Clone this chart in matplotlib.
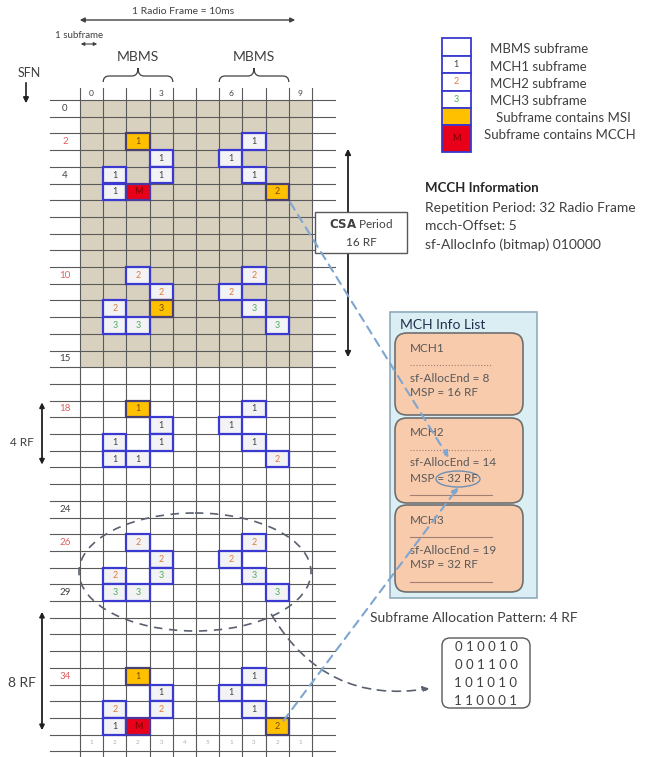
import numpy as np
import matplotlib.pyplot as plt
from matplotlib.patches import Rectangle, FancyBboxPatch, Ellipse, FancyArrowPatch, PathPatch
from matplotlib.path import Path

plt.rcParams['font.family'] = ['Lato', 'DejaVu Sans']

# ---- data -------------------------------------------------------------
n_sfn = 38                      # radio frames drawn (0..37)
n_subframes = 10
csa_period = 16                 # shaded rows
mbms_subframes = [1, 2, 3, 6, 7, 8]
header_cols = [0, 3, 6, 9]

row_labels = [0, 2, 4, 10, 15, 18, 24, 26, 29, 34]
red_rows = [2, 10, 18, 26, 34]
bottom_digits = ['1', '2', '2', '3', '4', '5', '1', '3', '2', '1']

# allocated subframes: SFN, subframe, label, kind
cell_sfn = [2, 2, 3, 3, 4, 4, 4, 5, 5, 5,
            10, 10, 11, 11, 12, 12, 12, 13, 13, 13,
            18, 18, 19, 19, 20, 20, 20, 21, 21, 21,
            26, 26, 27, 27, 28, 28, 28, 29, 29, 29,
            34, 34, 35, 35, 36, 36, 36, 37, 37, 37]
cell_sf = [2, 7, 3, 6, 1, 3, 7, 1, 2, 8] * 5
cell_label = ['1', '1', '1', '1', '1', '1', '1', '1', 'M', '2',
              '2', '2', '2', '2', '2', '3', '3', '3', '3', '3',
              '1', '1', '1', '1', '1', '1', '1', '1', '1', '2',
              '2', '2', '2', '2', '2', '3', '3', '3', '3', '3',
              '1', '1', '1', '1', '2', '2', '1', '1', 'M', '2']
cell_kind = ['msi', '', '', '', '', '', '', '', 'mcch', 'msi',
             '', '', '', '', '', 'msi', '', '', '', '',
             'msi', '', '', '', '', '', '', '', '', '',
             '', '', '', '', '', '', '', '', '', '',
             'msi', '', '', '', '', '', '', '', 'mcch', 'msi']

legend_labels = ['MBMS subframe', 'MCH1 subframe', 'MCH2 subframe', 'MCH3 subframe',
                 'Subframe contains MSI', 'Subframe contains MCCH']
legend_marks = ['', '1', '2', '3', '', 'M']
legend_kinds = ['', '', '', '', 'msi', 'mcch']

mcch_info = ['Repetition Period: 32 Radio Frame', 'mcch-Offset: 5',
             'sf-AllocInfo (bitmap) 010000']
mch_names = ['MCH1', 'MCH2', 'MCH3']
mch_alloc_end = [8, 14, 19]
mch_msp = [16, 32, 32]
alloc_pattern = ['010010', '001100', '101010', '110001']

# ---- layout (pixels) --------------------------------------------------
X0, CW = 80, 23.2
Y0, RH = 100, 16.7
LX0, LX1 = 50, 335

def cx(c):
    return X0 + c * CW

def ry(r):
    return Y0 + r * RH

txt_col = {'1': '#404040', '2': '#e07b39', '3': '#4fae5a', 'M': '#7a0000', '': '#404040'}
blue = '#3a3ad0'
grey = '#404040'

fig = plt.figure(figsize=(6.55, 7.57), dpi=100)
ax = fig.add_axes([0, 0, 1, 1])
ax.set_xlim(0, 655)
ax.set_ylim(757, 0)
ax.axis('off')

# shaded CSA period
ax.add_patch(Rectangle((cx(0), ry(0)), CW * n_subframes, RH * csa_period,
                       facecolor='#d8d1bf', edgecolor='none', zorder=0))

# grid
for r in range(n_sfn + 2):
    ax.plot([LX0, LX1], [ry(r), ry(r)], color='#5a5a5a', lw=0.8, zorder=1)
for c in range(n_subframes + 1):
    ax.plot([cx(c), cx(c)], [88, 757], color='#5a5a5a', lw=0.8, zorder=1)

for c in header_cols:
    ax.text(cx(c) + CW / 2, 94, str(c), ha='center', va='center', fontsize=6, color=grey)
for r in row_labels:
    ax.text(65, ry(r) + RH / 2, str(r), ha='center', va='center', fontsize=7,
            color='#e06060' if r in red_rows else grey)
for c, d in enumerate(bottom_digits):
    ax.text(cx(c) + CW / 2, ry(n_sfn) + RH / 2, d, ha='center', va='center', fontsize=4.5, color='#b0b0b0')

# allocated subframes
for r, c, lab, kind in zip(cell_sfn, cell_sf, cell_label, cell_kind):
    if kind == 'msi':
        fc, ec = '#ffc000', '#4a4070'
    elif kind == 'mcch':
        fc, ec = '#e8001a', '#4a3aa0'
    else:
        fc, ec = '#f3f3f6', blue
    ax.add_patch(Rectangle((cx(c), ry(r)), CW, RH, facecolor=fc, edgecolor=ec, lw=1.6, zorder=3))
    ax.text(cx(c) + CW / 2, ry(r) + RH / 2, lab, ha='center', va='center', fontsize=6.5,
            color='#7a4a00' if kind == 'msi' else txt_col[lab], zorder=4)

# top annotations
ax.annotate('', xy=(298, 20), xytext=(77, 20),
            arrowprops=dict(arrowstyle='<|-|>', color=grey, lw=1, mutation_scale=7))
ax.text(183, 12, '1 Radio Frame = 10ms', ha='center', va='center', fontsize=7.5, color=grey)
ax.text(55, 36, '1 subframe', ha='left', va='center', fontsize=7, color=grey)
ax.annotate('', xy=(100, 44), xytext=(78, 44),
            arrowprops=dict(arrowstyle='<|-|>', color=grey, lw=0.8, mutation_scale=5))
ax.text(29, 73, 'SFN', ha='center', va='center', fontsize=9, color=grey)
ax.annotate('', xy=(26, 106), xytext=(26, 80),
            arrowprops=dict(arrowstyle='-|>', color='#202020', lw=1.2, mutation_scale=8))


def brace(x0, x1, yb=82, ym=76, yt=68, r=6):
    xc = (x0 + x1) / 2
    verts = [(x0, yb), (x0, ym), (x0 + r, ym), (xc - r, ym), (xc, ym), (xc, yt),
             (xc, yt), (xc, ym), (xc + r, ym), (x1 - r, ym), (x1, ym), (x1, yb)]
    codes = [Path.MOVETO, Path.CURVE3, Path.CURVE3, Path.LINETO, Path.CURVE3, Path.CURVE3,
             Path.MOVETO, Path.CURVE3, Path.CURVE3, Path.LINETO, Path.CURVE3, Path.CURVE3]
    ax.add_patch(PathPatch(Path(verts, codes), facecolor='none', edgecolor=grey, lw=0.9))


brace(cx(1), cx(4))
brace(cx(6), cx(9))
ax.text(cx(2.5), 57, 'MBMS', ha='center', va='center', fontsize=10, color=grey)
ax.text(cx(7.5), 57, 'MBMS', ha='center', va='center', fontsize=10, color=grey)

# left period arrows
ax.annotate('', xy=(42, ry(18) - 1), xytext=(42, ry(22)),
            arrowprops=dict(arrowstyle='<|-|>', color='#202020', lw=1.3, mutation_scale=7))
ax.text(22, 442, '4 RF', ha='center', va='center', fontsize=8.5, color=grey)
ax.annotate('', xy=(42, 609), xytext=(42, 733),
            arrowprops=dict(arrowstyle='<|-|>', color='#202020', lw=1.3, mutation_scale=7))
ax.text(22, 683, '8 RF', ha='center', va='center', fontsize=10, color=grey)

# CSA period arrow and box
ax.annotate('', xy=(348, 146), xytext=(348, 360),
            arrowprops=dict(arrowstyle='<|-|>', color='#202020', lw=1.3, mutation_scale=8))
ax.add_patch(Rectangle((315, 212), 92, 41, facecolor='white', edgecolor='#595959', lw=1, zorder=5))
ax.text(361, 224, r'$\bf{CSA}$ Period', ha='center', va='center', fontsize=8.5, color=grey, zorder=6)
ax.text(361, 242, '16 RF', ha='center', va='center', fontsize=8.5, color=grey, zorder=6)

# legend
leg_top = [38, 56, 73, 91, 108, 125]
leg_h = [18, 17, 18, 17, 17, 27]
for top, h, mark, kind, lab in zip(leg_top, leg_h, legend_marks, legend_kinds, legend_labels):
    fc = {'msi': '#ffc000', 'mcch': '#e8001a'}.get(kind, 'white')
    ax.add_patch(Rectangle((442, top), 29, h, facecolor=fc, edgecolor=blue, lw=1.3))
    ax.text(456, top + h / 2, mark, ha='center', va='center', fontsize=6.5, color=txt_col[mark])
leg_text_x = [490, 490, 490, 490, 496, 484]
leg_text_y = [49, 67, 84, 101, 118, 135]
for x, y, lab in zip(leg_text_x, leg_text_y, legend_labels):
    ax.text(x, y, lab, ha='left', va='center', fontsize=9.5, color=grey)

# MCCH information
ax.text(425, 188, 'MCCH Information', ha='left', va='center', fontsize=9.5, fontweight='bold', color='#262626')
for i, line in enumerate(mcch_info):
    ax.text(425, 208 + i * 18.5, line, ha='left', va='center', fontsize=10, color=grey)

# MCH info list
ax.add_patch(Rectangle((390, 312), 147, 286, facecolor='#dbeef4', edgecolor='#8faabc', lw=1.2))
ax.text(400, 325, 'MCH Info List', ha='left', va='center', fontsize=10, color='#1f3050')
mch_top = [333, 418, 505]
mch_h = [82, 85, 87]
for i, (top, h) in enumerate(zip(mch_top, mch_h)):
    ax.add_patch(FancyBboxPatch((395, top), 128, h, boxstyle='round,pad=0,rounding_size=12',
                                facecolor='#f8cbad', edgecolor='#6f6f6f', lw=1.2))
    ax.text(410, top + 15, mch_names[i], ha='left', va='center', fontsize=8.5, color='#595959')
    ax.plot([410, 492], [top + 32, top + 32], color='#a08070', lw=0.8,
            ls=':' if i < 2 else '-')
    ax.text(410, top + 45, f'sf-AllocEnd = {mch_alloc_end[i]}', ha='left', va='center',
            fontsize=8.5, color='#595959')
    ax.text(410, top + 60, f'MSP = {mch_msp[i]} RF', ha='left', va='center',
            fontsize=8.5, color='#595959')
    if i > 0:
        ax.plot([410, 492], [top + 77, top + 77], color='#a08070', lw=0.8)

ax.add_patch(Ellipse((458, 479), 44, 16, facecolor='none', edgecolor='#6f8fb0', lw=1))

# light blue dashed links from MSI subframes to MCH2 entries
ax.annotate('', xy=(450, 460), xytext=(cx(9), ry(6)),
            arrowprops=dict(arrowstyle='-|>', color='#7ea6d0', lw=1.5, ls=(0, (4, 3)),
                            mutation_scale=9), zorder=7)
ax.annotate('', xy=(460, 485), xytext=(cx(8.7), ry(37.3)),
            arrowprops=dict(arrowstyle='-|>', color='#7ea6d0', lw=1.5, ls=(0, (4, 3)),
                            mutation_scale=9), zorder=7)

# allocation pattern
ax.text(370, 618, 'Subframe Allocation Pattern: 4 RF', ha='left', va='center', fontsize=10, color=grey)
ax.add_patch(FancyBboxPatch((442, 638), 88, 70, boxstyle='round,pad=0,rounding_size=8',
                            facecolor='white', edgecolor='#595959', lw=1))
for i, bits in enumerate(alloc_pattern):
    ax.text(486, 647 + i * 18, ' '.join(bits), ha='center', va='center', fontsize=9.5, color=grey)

# dashed ellipse around one pattern period and curved arrow
ax.add_patch(Ellipse((195, 572), 232, 118, facecolor='none', edgecolor='#5a6070', lw=1.2,
                     ls=(0, (5, 4)), zorder=6))
ax.add_patch(FancyArrowPatch((270, 612), (432, 688), connectionstyle='arc3,rad=0.35',
                             arrowstyle='-|>', mutation_scale=9, color='#5a6070', lw=1.2,
                             ls=(0, (5, 4)), zorder=6))

fig.savefig('out.png', dpi=100)
